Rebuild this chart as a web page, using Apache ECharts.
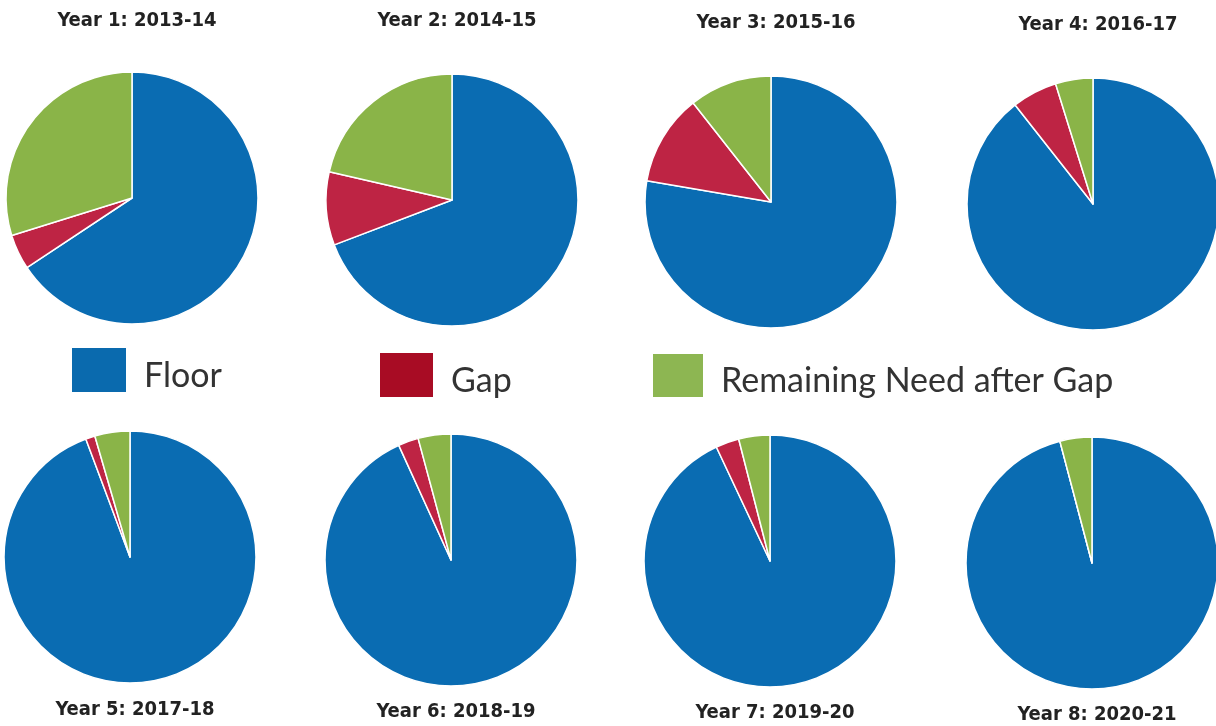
<!DOCTYPE html>
<html><head><meta charset="utf-8">
<script src="https://cdn.jsdelivr.net/npm/echarts@6/dist/echarts.min.js"></script>
<style>html,body{margin:0;padding:0;background:#fff}#c{width:1216px;height:726px}</style>
</head><body><div id="c"></div>
<script>
const categories = ['Floor', 'Gap', 'Remaining Need after Gap'];
const years = ['Year 1: 2013-14','Year 2: 2014-15','Year 3: 2015-16','Year 4: 2016-17',
               'Year 5: 2017-18','Year 6: 2018-19','Year 7: 2019-20','Year 8: 2020-21'];
const floor     = [65.7, 69.2, 77.7, 89.4, 94.3, 93.2, 93.0, 95.9];
const gap       = [ 4.5,  9.4, 11.7,  5.8,  1.2,  2.6,  3.0,  0.0];
const remaining = [29.8, 21.4, 10.6,  4.8,  4.5,  4.2,  4.0,  4.1];

const colors = ['#0a6cb2', '#be2444', '#8ab448'];
const legendColors = ['#0a6aae', '#a80c24', '#8db652'];

// layout (pixel centres and title positions)
const centers = [[132,198],[452,200],[771,202],[1093,204],[130,557],[451,560],[770,561],[1092,563]];
const titleY = [16,16,18,20,705,707,708,710];
const R = 126;

const series = years.map((y, i) => ({
  type: 'pie',
  center: centers[i],
  radius: [0, R],
  startAngle: 90,
  clockwise: true,
  avoidLabelOverlap: false,
  label: {show: false},
  labelLine: {show: false},
  emphasis: {disabled: true},
  itemStyle: {borderColor: '#fff', borderWidth: 1.5},
  data: [
    {name: categories[0], value: floor[i], itemStyle: {color: colors[0]}},
    {name: categories[1], value: gap[i], itemStyle: {color: colors[1]}},
    {name: categories[2], value: remaining[i], itemStyle: {color: colors[2]}}
  ]
}));

const titles = years.map((y, i) => ({
  text: y,
  left: centers[i][0],
  top: titleY[i],
  textAlign: 'center',
  textVerticalAlign: 'middle',
  textStyle: {fontFamily: 'DejaVu Sans Condensed', fontWeight: 'bold', fontSize: 20, color: '#222'}
}));

const legendPos = [[70,346,56,46],[378,351,55,46],[651,352,52,45]];
const legends = categories.map((c, i) => ({
  left: legendPos[i][0],
  top: legendPos[i][1],
  orient: 'horizontal',
  itemWidth: legendPos[i][2],
  itemHeight: legendPos[i][3],
  itemGap: 0,
  padding: 0,
  icon: 'rect',
  selectedMode: false,
  data: [{name: c, itemStyle: {color: legendColors[i]}}],
  formatter: '{t|{name}}',
  textStyle: {
    fontFamily: 'Lato', fontSize: 34, color: '#333',
    rich: {t: {fontFamily: 'Lato', fontSize: 34, color: '#333', padding: [12, 0, 0, 12]}}
  }
}));

const chart = echarts.init(document.getElementById('c'), null, {renderer: 'canvas'});
chart.setOption({
  animation: false,
  backgroundColor: '#fff',
  title: titles,
  legend: legends,
  series: series
});
</script></body></html>
